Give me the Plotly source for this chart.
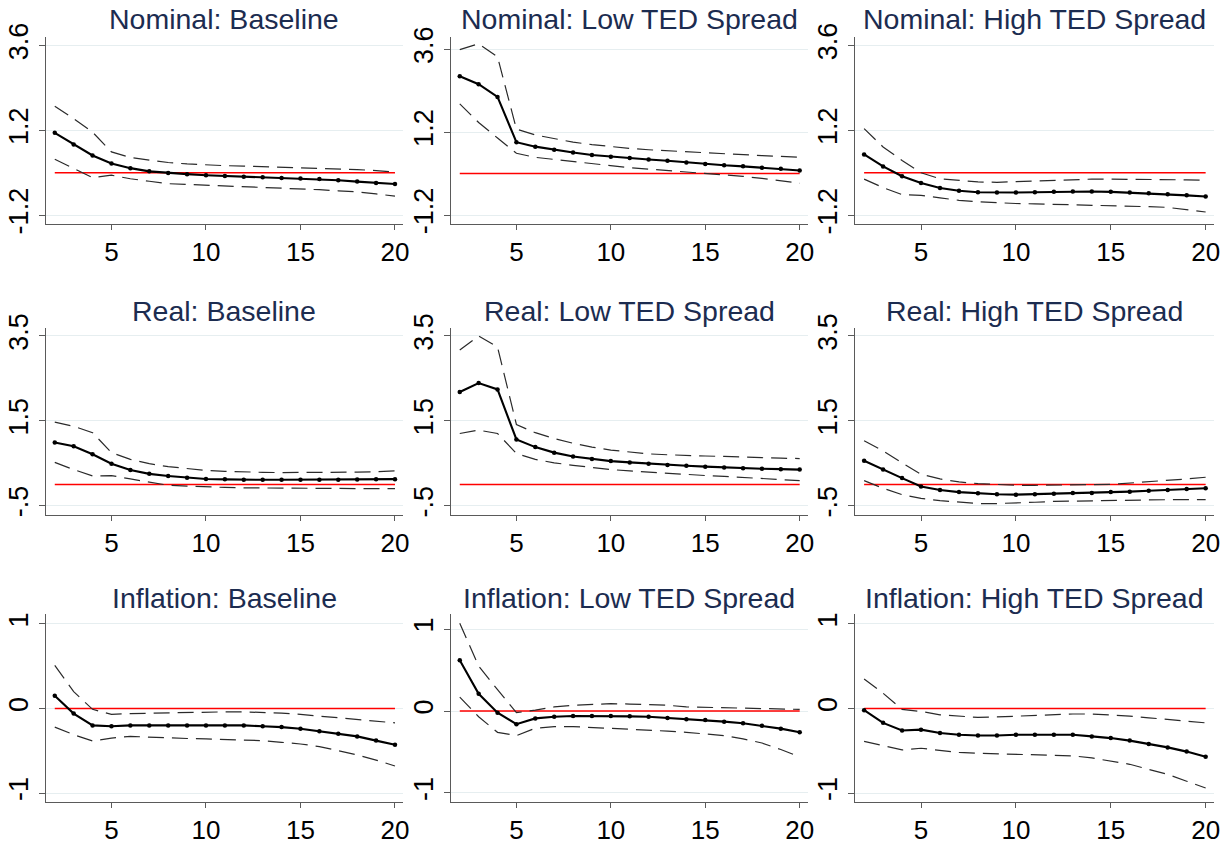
import plotly.graph_objects as go

horizon = list(range(2, 21))

# ---- Nominal ----
nom_base_irf = [1.13, 0.80, 0.49, 0.26, 0.13, 0.04, -0.01, -0.04, -0.07, -0.09, -0.11, -0.13, -0.15, -0.165, -0.18, -0.21, -0.25, -0.29, -0.32]
nom_base_hi = [1.88, 1.53, 1.15, 0.59, 0.43, 0.35, 0.29, 0.25, 0.22, 0.20, 0.19, 0.175, 0.16, 0.15, 0.13, 0.11, 0.09, 0.06, 0.02]
nom_base_lo = [0.38, 0.12, -0.14, -0.07, -0.17, -0.24, -0.31, -0.33, -0.35, -0.365, -0.38, -0.40, -0.42, -0.45, -0.48, -0.51, -0.54, -0.60, -0.66]

nom_low_irf = [2.82, 2.59, 2.22, 0.91, 0.78, 0.69, 0.61, 0.54, 0.49, 0.45, 0.41, 0.37, 0.32, 0.28, 0.24, 0.21, 0.17, 0.14, 0.09]
nom_low_hi = [3.59, 3.76, 3.38, 1.29, 1.12, 1.01, 0.91, 0.84, 0.78, 0.73, 0.69, 0.66, 0.62, 0.59, 0.57, 0.55, 0.52, 0.50, 0.47]
nom_low_lo = [2.02, 1.48, 1.03, 0.59, 0.47, 0.41, 0.35, 0.28, 0.22, 0.17, 0.13, 0.09, 0.05, 0.01, -0.03, -0.08, -0.14, -0.21, -0.28]

nom_high_irf = [0.52, 0.18, -0.10, -0.29, -0.43, -0.51, -0.55, -0.56, -0.56, -0.55, -0.54, -0.53, -0.53, -0.54, -0.56, -0.58, -0.61, -0.64, -0.67]
nom_high_hi = [1.25, 0.73, 0.35, 0.0, -0.17, -0.22, -0.26, -0.27, -0.25, -0.23, -0.21, -0.19, -0.18, -0.18, -0.18, -0.185, -0.19, -0.20, -0.21]
nom_high_lo = [-0.18, -0.42, -0.62, -0.64, -0.71, -0.78, -0.82, -0.85, -0.87, -0.88, -0.89, -0.90, -0.91, -0.92, -0.94, -0.96, -0.98, -1.04, -1.11]

# ---- Real ----
real_base_irf = [0.99, 0.90, 0.71, 0.49, 0.34, 0.25, 0.20, 0.16, 0.13, 0.12, 0.11, 0.11, 0.11, 0.11, 0.11, 0.11, 0.115, 0.12, 0.125]
real_base_hi = [1.47, 1.37, 1.22, 0.75, 0.59, 0.49, 0.42, 0.37, 0.33, 0.31, 0.29, 0.285, 0.28, 0.28, 0.28, 0.285, 0.29, 0.30, 0.32]
real_base_lo = [0.52, 0.35, 0.20, 0.21, 0.13, 0.05, -0.02, -0.04, -0.06, -0.07, -0.08, -0.085, -0.09, -0.09, -0.09, -0.095, -0.095, -0.10, -0.10]

real_low_irf = [2.18, 2.39, 2.24, 1.06, 0.88, 0.75, 0.66, 0.60, 0.55, 0.52, 0.49, 0.46, 0.44, 0.42, 0.40, 0.38, 0.37, 0.36, 0.35]
real_low_hi = [3.17, 3.50, 3.24, 1.41, 1.22, 1.08, 0.97, 0.88, 0.81, 0.76, 0.72, 0.70, 0.68, 0.67, 0.66, 0.64, 0.63, 0.62, 0.61]
real_low_lo = [1.20, 1.28, 1.20, 0.73, 0.59, 0.51, 0.45, 0.40, 0.35, 0.32, 0.29, 0.26, 0.235, 0.21, 0.19, 0.16, 0.14, 0.115, 0.09]

real_high_irf = [0.56, 0.35, 0.15, -0.05, -0.13, -0.18, -0.21, -0.23, -0.24, -0.23, -0.22, -0.20, -0.20, -0.18, -0.17, -0.15, -0.13, -0.11, -0.09]
real_high_hi = [1.03, 0.79, 0.51, 0.24, 0.13, 0.06, 0.02, 0.0, -0.02, -0.02, -0.02, -0.01, -0.005, 0.0, 0.03, 0.06, 0.10, 0.13, 0.17]
real_high_lo = [0.09, -0.09, -0.24, -0.33, -0.38, -0.42, -0.45, -0.45, -0.44, -0.42, -0.40, -0.39, -0.385, -0.38, -0.37, -0.365, -0.36, -0.36, -0.36]

# ---- Inflation ----
infl_base_irf = [0.15, -0.06, -0.20, -0.21, -0.20, -0.20, -0.20, -0.20, -0.20, -0.20, -0.20, -0.21, -0.22, -0.24, -0.27, -0.30, -0.33, -0.38, -0.43]
infl_base_hi = [0.51, 0.20, -0.01, -0.07, -0.06, -0.055, -0.05, -0.045, -0.04, -0.04, -0.04, -0.045, -0.055, -0.07, -0.09, -0.11, -0.13, -0.15, -0.17]
infl_base_lo = [-0.22, -0.31, -0.385, -0.35, -0.33, -0.34, -0.35, -0.355, -0.36, -0.365, -0.37, -0.38, -0.40, -0.42, -0.45, -0.50, -0.55, -0.61, -0.68]

infl_low_irf = [0.62, 0.21, -0.02, -0.16, -0.09, -0.07, -0.06, -0.06, -0.06, -0.065, -0.07, -0.085, -0.10, -0.11, -0.13, -0.15, -0.18, -0.215, -0.26]
infl_low_hi = [1.07, 0.55, 0.26, -0.02, 0.01, 0.05, 0.07, 0.08, 0.09, 0.085, 0.08, 0.07, 0.05, 0.045, 0.04, 0.035, 0.03, 0.025, 0.02]
infl_low_lo = [0.17, -0.07, -0.26, -0.30, -0.21, -0.19, -0.19, -0.20, -0.21, -0.22, -0.23, -0.245, -0.26, -0.28, -0.30, -0.34, -0.39, -0.47, -0.56]

infl_high_irf = [-0.02, -0.17, -0.26, -0.25, -0.29, -0.31, -0.32, -0.32, -0.31, -0.31, -0.31, -0.31, -0.33, -0.35, -0.38, -0.42, -0.46, -0.51, -0.57]
infl_high_hi = [0.35, 0.18, -0.01, -0.035, -0.075, -0.09, -0.105, -0.10, -0.09, -0.08, -0.07, -0.065, -0.065, -0.075, -0.09, -0.11, -0.13, -0.15, -0.17]
infl_high_lo = [-0.39, -0.44, -0.49, -0.47, -0.495, -0.52, -0.53, -0.535, -0.54, -0.545, -0.55, -0.56, -0.585, -0.62, -0.66, -0.72, -0.78, -0.86, -0.94]

titles = [
    "Nominal: Baseline", "Nominal: Low TED Spread", "Nominal: High TED Spread",
    "Real: Baseline", "Real: Low TED Spread", "Real: High TED Spread",
    "Inflation: Baseline", "Inflation: Low TED Spread", "Inflation: High TED Spread",
]
series = [
    (nom_base_irf, nom_base_hi, nom_base_lo), (nom_low_irf, nom_low_hi, nom_low_lo), (nom_high_irf, nom_high_hi, nom_high_lo),
    (real_base_irf, real_base_hi, real_base_lo), (real_low_irf, real_low_hi, real_low_lo), (real_high_irf, real_high_hi, real_high_lo),
    (infl_base_irf, infl_base_hi, infl_base_lo), (infl_low_irf, infl_low_hi, infl_low_lo), (infl_high_irf, infl_high_hi, infl_high_lo),
]
nom_ticks = [-1.2, 1.2, 3.6]
nom_ticklabels = ["-1.2", "1.2", "3.6"]
real_ticks = [-0.5, 1.5, 3.5]
real_ticklabels = ["-.5", "1.5", "3.5"]
infl_ticks = [-1, 0, 1]
infl_ticklabels = ["-1", "0", "1"]
x_ticks = [5, 10, 15, 20]
zero_line = [0] * len(horizon)

W, H = 1229, 846
col_px = [(45.7, 403.3), (450.7, 808.0), (855.0, 1214.0)]
row_px = [(36.7, 224.0), (328.3, 515.0), (614.3, 802.0)]
title_px = [19, 311.5, 598]
yranges = [
    [-1.45, 3.85], [-1.46, 3.965], [-1.45, 3.85],
    [-0.72, 3.68], [-0.72, 3.68], [-0.72, 3.68],
    [-1.106, 1.114], [-1.11, 1.18], [-1.106, 1.114],
]
row_ticks = [(nom_ticks, nom_ticklabels), (real_ticks, real_ticklabels), (infl_ticks, infl_ticklabels)]

FONT = "Liberation Sans, Arial, sans-serif"
TITLE_COLOR = "#1c2c50"
AXIS_COLOR = "#5a5a5a"
GRID_COLOR = "#e6eef0"

fig = go.Figure()
layout = dict(
    width=W, height=H, margin=dict(l=0, r=0, t=0, b=0, autoexpand=False),
    paper_bgcolor="white", plot_bgcolor="white", showlegend=False,
    font=dict(family=FONT, color="black"),
)
annotations = []
for i in range(9):
    r, c = divmod(i, 3)
    n = i + 1
    xa = "x" if n == 1 else f"x{n}"
    ya = "y" if n == 1 else f"y{n}"
    irf, hi, lo = series[i]
    fig.add_trace(go.Scatter(x=horizon, y=zero_line, mode="lines", xaxis=xa, yaxis=ya,
                             line=dict(color="#ff0000", width=1.5), hoverinfo="skip"))
    for band in (hi, lo):
        fig.add_trace(go.Scatter(x=horizon, y=band, mode="lines", xaxis=xa, yaxis=ya,
                                 line=dict(color="#2a2a2a", width=1.2, dash="16px,8px")))
    fig.add_trace(go.Scatter(x=horizon, y=irf, mode="lines+markers", xaxis=xa, yaxis=ya,
                             line=dict(color="black", width=2.1),
                             marker=dict(color="black", size=4.5)))
    x0, x1 = col_px[c]
    y0, y1 = row_px[r]
    xdom = [x0 / W, x1 / W]
    ydom = [1 - y1 / H, 1 - y0 / H]
    tv, tt = row_ticks[r]
    layout["xaxis" if n == 1 else f"xaxis{n}"] = dict(
        domain=xdom, anchor=ya, range=[1.52, 20.44], tickvals=x_ticks, automargin=False,
        showgrid=False, zeroline=False, showline=True, linecolor=AXIS_COLOR, linewidth=1,
        ticks="outside", ticklen=5, tickcolor=AXIS_COLOR, tickwidth=1,
        tickfont=dict(family=FONT, size=26, color="black"),
    )
    layout["yaxis" if n == 1 else f"yaxis{n}"] = dict(
        domain=ydom, anchor=xa, range=yranges[i], tickvals=tv, ticktext=tt, automargin=False,
        tickangle=-90, showgrid=True, gridcolor=GRID_COLOR, gridwidth=1,
        zeroline=False, showline=True, linecolor=AXIS_COLOR, linewidth=1,
        ticks="outside", ticklen=6, tickcolor=AXIS_COLOR, tickwidth=1,
        tickfont=dict(family=FONT, size=27, color="black"),
    )
    annotations.append(dict(
        text=titles[i], x=(xdom[0] + xdom[1]) / 2, y=1 - title_px[r] / H,
        xref="paper", yref="paper", xanchor="center", yanchor="middle",
        showarrow=False, font=dict(family=FONT, size=28.5, color=TITLE_COLOR),
    ))
layout["annotations"] = annotations
fig.update_layout(**layout)
fig.write_html("out.html")
